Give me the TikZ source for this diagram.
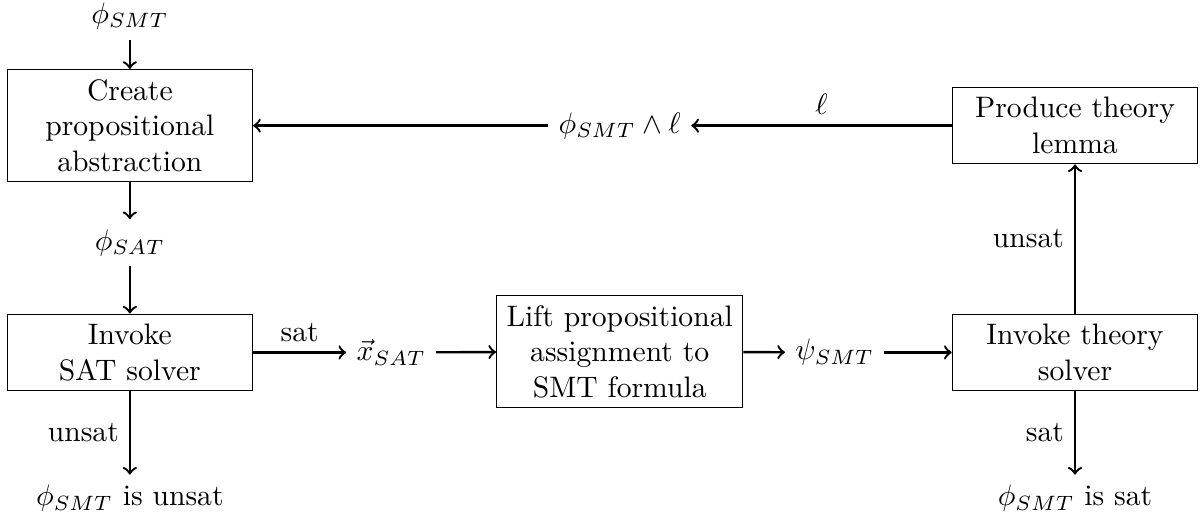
\documentclass[tikz,border=0pt]{standalone}
\usepackage{amsmath}
\usepackage{tikz}

\begin{document}
\begin{tikzpicture}[box/.style={draw,align=center,minimum width=2.91cm},
    flow/.style={->,thick}]
  \useasboundingbox (0,0) rectangle (14.28,-6.2);

  \node (phismt) at (1.54,-0.19) {$\phi_{SMT}$};
  \node[box] (abstr) at (1.54,-1.49) {Create\\propositional\\abstraction};
  \node (phisat) at (1.54,-2.88) {$\phi_{SAT}$};
  \node[box] (satsolver) at (1.54,-4.18) {Invoke\\SAT solver};
  \node (unsatres) at (1.54,-5.91) {$\phi_{SMT}$ is unsat};

  \node (xsat) at (4.64,-4.18) {$\vec{x}_{SAT}$};
  \node[box] (lift) at (7.35,-4.17) {Lift propositional\\assignment to\\SMT formula};
  \node (psismt) at (9.9,-4.18) {$\psi_{SMT}$};
  \node[box] (theory) at (12.75,-4.18) {Invoke theory\\solver};
  \node (satres) at (12.75,-5.91) {$\phi_{SMT}$ is sat};

  \node[box] (lemma) at (12.75,-1.49) {Produce theory\\lemma};
  \node (conj) at (7.35,-1.49) {$\phi_{SMT}\wedge\ell$};

  \draw[flow] (phismt) -- (abstr);
  \draw[flow] (abstr) -- (phisat);
  \draw[flow] (phisat) -- (satsolver);
  \draw[flow] (satsolver) -- node[left] {unsat} (unsatres);
  \draw[flow] (satsolver) -- node[above] {sat} (xsat);
  \draw[flow] (xsat) -- (lift);
  \draw[flow] (lift) -- (psismt);
  \draw[flow] (psismt) -- (theory);
  \draw[flow] (theory) -- node[left] {sat} (satres);
  \draw[flow] (theory) -- node[left] {unsat} (lemma);
  \draw[flow] (lemma) -- node[above] {$\ell$} (conj);
  \draw[flow] (conj) -- (abstr);
\end{tikzpicture}
\end{document}
